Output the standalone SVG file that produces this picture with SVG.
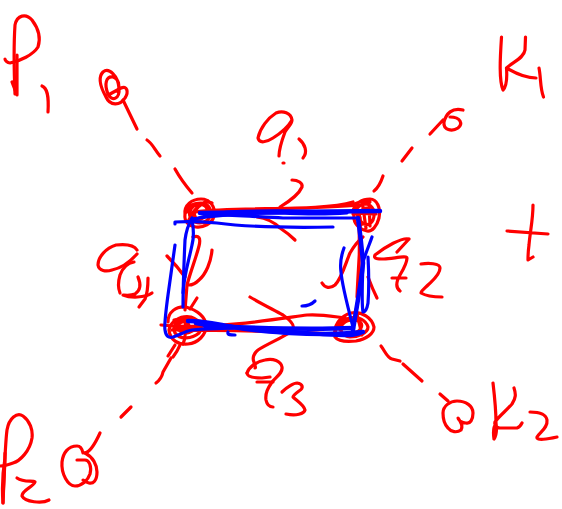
<svg xmlns="http://www.w3.org/2000/svg" width="562" height="509" viewBox="0 0 562 509">
<style>
path{fill:none;stroke-linecap:round;stroke-linejoin:round}
.r{stroke:#ff0000;stroke-width:3.2}
.b{stroke:#0000ff;stroke-width:3.2}
.B{stroke:#0000ff;stroke-width:4.5}
</style>
<rect width="562" height="509" fill="#ffffff"/>
<g id="p1">
<path class="r" d="M15 94C14 70 14 40 15 25C17 15 26 13 32 20C38 28 41 38 38 47C33 55 20 61 10 63C7 63 5 60 5 59"/>
<path class="r" d="M17 55L17 95L12 82"/>
<path class="r" d="M42 86C47 88 49 95 48 112"/>
</g>
<g id="q1">
<path class="r" d="M110 94L121 88C127 85 129 92 125 98C120 106 110 106 106 97C101 88 97 78 103 72C109 67 118 76 119 88C120 99 112 102 108 94C104 84 106 76 113 77C119 79 120 86 118 92"/>
<path class="r" d="M123 100L137 129M147 140C152 143 155 150 160 156M175 169C180 178 186 186 192 193"/>
</g>
<g id="k1">
<path class="r" d="M501.500 37C500 60 499 80 503 90C507 86 507 75 506.500 68C513 62 524 58 525 50L525.500 37M506.500 68C515 73 526 78 536 78"/>
<path class="r" d="M539 68C541 78 540 88 543.500 97"/>
</g>
<g id="q2">
<path class="r" d="M430 134L443 120M463 110C452 107 446 114 444 122C443 130 452 132 458 128C463 124 461 117 450 117"/>
<path class="r" d="M402 161L412 148M374 191C378 188 381 182 383 176"/>
</g>
<g id="q3">
<path class="r" d="M381 346C385 351 387 358 392 359L400 361M403 364L422 381M440 394L448 401"/>
<path class="r" d="M443 413C443 406 450 401 457 401C466 401 473 406 473 413C473 420 470 424 466 423C462 423 458 420 458 418C461 422 463 427 461 430C457 433 451 432 448 428C445 425 443 420 443 413"/>
</g>
<g id="k2">
<path class="r" d="M493 383C495 400 496 412 496 423C497 430 496 436 494 439C493 432 494 426 496 424M514 388C516 394 516 398 512 404C506 411 499 416 495 422C494 426 497 428 500 428L517 428C520 427 521 425 522 423"/>
<path class="r" d="M530 412C538 412 546 414 547 420C548 428 540 432 537 437C536 441 548 439 557 437"/>
</g>
<g id="p2">
<path class="r" d="M3 503C4 480 5 445 7 430C9 418 17 412 23 416C30 421 33 430 32 438C30 451 20 461 13 463C8 465 4 466 0 466"/>
<path class="r" d="M3 503C3 490 5 470 5 453M3 503C2 490 3 470 5 458"/>
<path class="r" d="M17 478C24 483 33 480 35 482C33 487 22 490 22 496C25 502 42 504 49 500"/>
</g>
<g id="q4">
<path class="r" d="M83 453C82 448 80 446 77 446C68 446 63 453 62 462C61 474 68 486 75 486C82 486 88 480 90 474C92 466 89 460 85 460L77 460"/>
<path class="r" d="M85 453C93 457 97 465 97 472C97 481 93 484 89 483C85 482 84 480 83 480"/>
<path class="r" d="M85 453C90 452 95 444 100 433"/>
<path class="r" d="M121 417L131 407M156 383C160 380 162 377 163 372L171 358M173 357C176 353 178 350 180 345"/>
</g>
<g id="a1">
<path class="r" d="M292 120C291 113 283 110 276 113C268 118 260 128 258 138C259 144 267 142 273 138C281 133 288 127 292 120C292 124 288 127 285 132C282 140 279 150 279 156M283 163L284 163"/>
<path class="r" d="M299 139C305 144 308 152 303 158"/>
</g>
<g id="a4">
<path class="r" d="M137 250C134 245 125 244 116 245C106 248 98 257 98 265C99 271 106 272 112 270C122 268 130 262 137 254"/>
<path class="r" d="M134 262C128 263 123 267 120 275C118 282 118 288 120 293"/>
<path class="r" d="M138 277C141 284 141 290 135 294C130 296 124 295 123 295C130 298 145 298 152 293"/>
<path class="r" d="M148 278C148 285 148 292 145 299L139 307"/>
</g>
<g id="f2">
<path class="r" d="M409 239C402 237 385 247 375 255C373 259 378 259 384 259C392 259 407 255 407 258C407 263 403 270 400 275C396 282 396 288 400 291M397 252L409 239M392 278L406 278"/>
<path class="r" d="M421 264C428 263 440 263 440 268C440 275 432 281 428 285C424 289 421 291 421 293C426 296 434 297 442 297"/>
</g>
<g id="a3">
<path class="r" d="M250 297C260 303 272 309 283 315C290 320 295 325 293 329C290 335 270 342 258 350C254 353 252 358 254 362C255 366 256 368 255 368"/>
<path class="r" d="M247 373C249 367 257 361 265 360C273 358 281 361 282 367C283 373 276 377 272 382C268 388 265 393 266 400C267 405 270 407 273 407"/>
<path class="r" d="M247 373C247 377 255 378 262 378L270 377M257 382L273 382"/>
<path class="r" d="M282 392C287 387 294 383 297 383C303 384 304 388 299 391C295 394 293 396 293 397C297 401 304 405 305 410C304 414 296 416 286 414"/>
</g>
<g id="plus">
<path class="r" d="M533 205C533 220 530 232 529 245C528 252 528 257 528 260L533 257M507 231L548 234"/>
</g>
<g id="a1-tick">
<path class="r" d="M292 180C298 180 303 183 302 187C299 194 290 201 280 207"/>
<path class="r" d="M257 217C265 218 274 222 280 228C286 232 291 236 295 240"/>
</g>
<g id="scribbles">
<path class="r" d="M185 214C184 205 192 199 201 199C210 199 216 207 214 216C212 224 203 228 196 227C189 226 184 222 185 214C187 207 193 203 201 203C208 203 212 209 210 216C208 222 201 224 195 222C190 220 188 214 191 209C194 204 201 203 205 206C209 209 207 217 201 219C196 220 193 216 195 211C198 206 205 200 212 203M188 222C192 212 198 204 208 201M187 209C190 216 200 226 210 222"/>
<path class="r" d="M353 211C355 203 362 199 370 199C377 199 381 208 379 218C377 226 372 232 367 231C361 230 355 225 354 219C353 212 358 204 366 204C373 205 376 212 373 220C370 226 363 226 360 220C358 215 361 208 367 208M352 205C358 202 364 200 370 202M355 208L361 225M362 201L366 228M369 203L370 226M353 214C360 212 368 214 376 214"/>
<path class="r" d="M168 322C168 312 176 306 186 307C197 310 206 317 206 326C206 335 198 343 188 344C178 345 170 340 169 330C170 322 180 315 191 317C200 320 204 327 199 333C192 339 180 340 175 333C172 327 176 320 186 318C192 318 197 322 196 327C194 332 185 335 180 331C176 326 180 320 186 322C190 324 190 330 186 332"/>
<path class="r" d="M161 325L186 327M174 320C182 318 196 321 206 322M172 330C180 327 193 328 201 329M183 344C186 338 186 330 185 318M197 298L190 309M175 345L168 356"/>
<path class="r" d="M335 337C333 326 340 316 351 313C362 311 372 318 374 327C374 334 366 339 356 341C347 342 338 341 335 337C334 330 340 320 350 318C358 316 366 320 368 327C368 333 358 337 350 337C343 336 339 331 342 325C345 320 355 318 360 322C364 326 360 333 352 333M345 316L340 330M357 314L362 335"/>
</g>
<g id="red-box">
<path class="r" d="M195 212C240 206 320 212 353 202M205 211C260 208 320 209 360 205"/>
<path class="r" d="M178 326C220 328 270 320 307 315C320 314 330 316 345 318M176 330C220 331 280 330 345 335"/>
<path class="r" d="M360 217C361 240 358 270 357 297M359 225C360 250 359 275 358 300"/>
<path class="r" d="M193 237C199 235 201 238 199 246C196 258 191 270 187 285L185 310"/>
<path class="r" d="M212 250C211 262 206 274 199 280C195 284 191 285 189 285"/>
<path class="r" d="M167 256C173 262 180 270 185 277"/>
<path class="r" d="M322 283C325 288 330 289 335 285C342 278 346 262 350 253C354 246 358 241 363 237"/>
<path class="r" d="M368 277C371 285 374 292 377 298"/>
</g>
<g id="blue-box">
<path class="B" d="M200 213C260 212 330 212 380 211"/>
<path class="b" d="M175 222L175 224M175 222C190 221 205 222 217 223C240 226 280 228 333 227"/>
<path class="b" d="M192 220C205 216 215 213 227 212C270 210 320 211 347 213C320 215 300 214 280 213C250 213 225 214 192 219"/>
<path class="b" d="M357 218C330 218 300 218 283 218C260 217 235 215 217 215C205 216 197 218 192 220"/>
<path class="b" d="M192 218C188 225 186 232 185 240C184 262 183 285 183 307"/>
<path class="b" d="M192 220C194 230 194 237 192 245C189 260 184 275 183 293"/>
<path class="b" d="M175 245C173 260 170 280 168 295C166 310 164 325 165 330C166 337 169 338 173 337C180 335 185 331 192 330C205 328 220 329 233 328"/>
<path class="B" d="M188 321C205 321 220 325 233 327C255 331 275 332 290 333C320 335 345 334 363 332C355 335 352 335 350 335C320 335 295 332 267 330C240 328 210 326 196 323"/>
<path class="B" d="M205 326C250 328 300 330 353 328"/>
<path class="b" d="M228 332C227 335 231 335 235 335"/>
<path class="B" d="M358 218C360 232 362 250 363 263C361 285 356 310 353 330"/>
<path class="b" d="M372 237C370 243 366 252 363 262C361 280 357 308 353 327"/>
<path class="b" d="M368 257C369 275 369 290 368 303C367 309 365 312 363 312C361 300 363 275 363 257"/>
<path class="b" d="M344 248C341 256 340 265 341 272C342 285 346 300 353 327"/>
<path class="b" d="M302 306C307 306 311 305 315 301"/>
</g>
</svg>
